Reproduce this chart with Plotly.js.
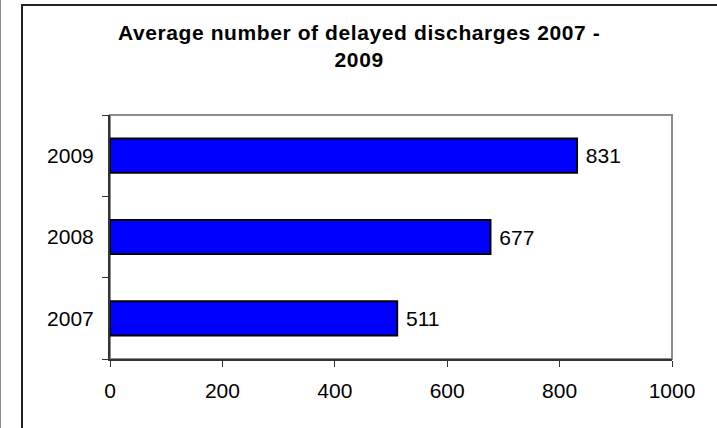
<!DOCTYPE html>
<html>
<head>
<meta charset="utf-8">
<script src="https://cdn.plot.ly/plotly-3.0.1.min.js"></script>
<style>
  html, body { margin: 0; padding: 0; background: #fff; overflow: hidden; }
  body { width: 717px; height: 428px; position: relative; }
  #edge { position: absolute; left: 0; top: 0; width: 1px; height: 428px; background: #8a8a8a; }
  #box { position: absolute; left: 21px; top: 4px; border-left: 2px solid #222; border-top: 2px solid #222; }
  #chart { width: 696px; height: 432px; }
  /* slightly open tracking on the chart title */
  #chart .gtitle { letter-spacing: 0.6px; }
</style>
</head>
<body>
<div id="edge"></div>
<div id="box"><div id="chart"></div></div>
<script>
// Years on the category axis, bottom to top
const years = ['2007', '2008', '2009'];
// Average number of delayed discharges per year
const delayedDischarges = [511, 677, 831];
// Value axis ticks
const xTicks = [0, 200, 400, 600, 800, 1000];

const trace = {
  type: 'bar',
  orientation: 'h',
  y: years,
  x: delayedDischarges,
  marker: { color: '#0000ff', line: { color: '#000', width: 2 } },
  texttemplate: ' %{x}',
  textposition: 'outside',
  constraintext: 'none',
  cliponaxis: false,
  textfont: { family: 'Liberation Sans, Arial, sans-serif', size: 21, color: '#000' },
  hoverinfo: 'skip'
};

const layout = {
  width: 696,
  height: 432,
  margin: { l: 87, r: 47, t: 109, b: 79, pad: 0 },
  paper_bgcolor: '#fff',
  plot_bgcolor: '#fff',
  showlegend: false,
  bargap: 0.58,
  font: { family: 'Liberation Sans, Arial, sans-serif', size: 21, color: '#000' },
  title: {
    text: '<b>Average number of delayed discharges 2007 -<br>2009</b>',
    font: { family: 'Liberation Sans, Arial, sans-serif', size: 21, color: '#000' },
    xref: 'container', x: 0.483, xanchor: 'center',
    yref: 'container', y: 1 - 34 / 432, yanchor: 'top'
  },
  xaxis: {
    range: [0, 1000],
    tickvals: xTicks,
    ticktext: xTicks.map(String),
    showgrid: false,
    zeroline: false,
    showline: true, linecolor: '#333', linewidth: 2,
    ticks: 'outside', ticklen: 6, tickwidth: 1, tickcolor: '#333',
    ticklabelstandoff: 6,
    tickfont: { size: 21 },
    fixedrange: true
  },
  yaxis: {
    type: 'category',
    categoryorder: 'array',
    categoryarray: years,
    tickson: 'boundaries',
    showgrid: false,
    zeroline: false,
    showline: true, linecolor: '#333', linewidth: 2,
    ticks: 'outside', ticklen: 6, tickwidth: 1, tickcolor: '#333',
    ticklabelstandoff: 10,
    tickfont: { size: 21 },
    fixedrange: true
  },
  shapes: [{
    type: 'rect', xref: 'paper', yref: 'paper', x0: 0, x1: 1, y0: 0, y1: 1,
    line: { color: '#8c8c8c', width: 2 }, layer: 'below'
  }]
};

Plotly.newPlot('chart', [trace], layout, { displayModeBar: false, staticPlot: true });
</script>
</body>
</html>
